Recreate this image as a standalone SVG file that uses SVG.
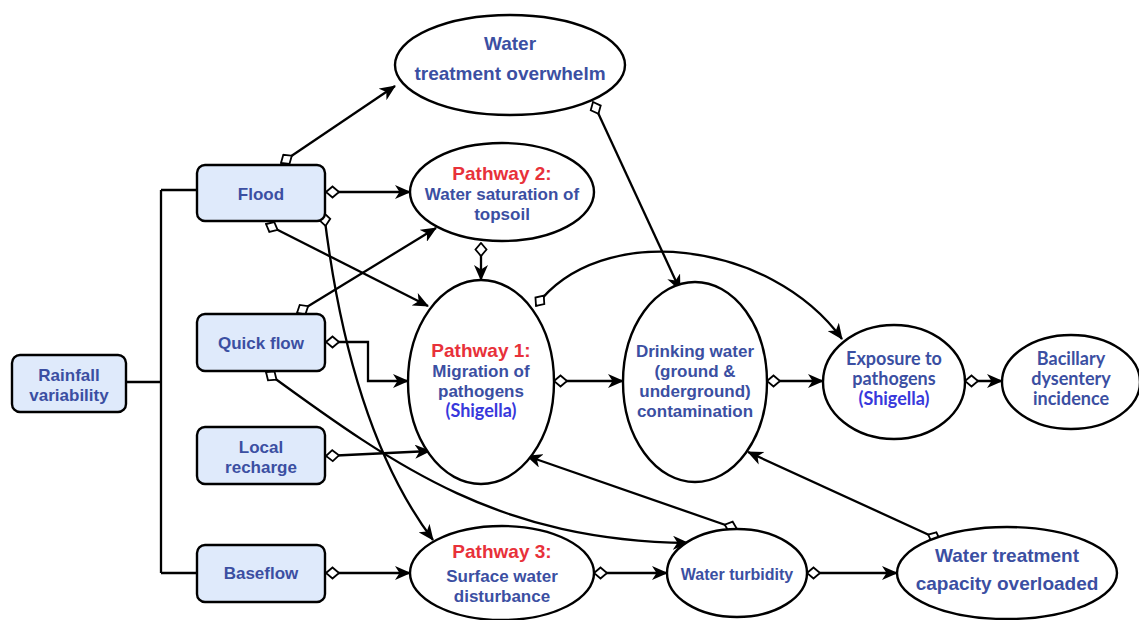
<svg xmlns="http://www.w3.org/2000/svg" width="1139" height="620" viewBox="0 0 1139 620">
<defs>
<style>
.box{fill:#dfeafb;stroke:#000;stroke-width:2.4}
.ell{fill:#fff;stroke:#000;stroke-width:2.4}
.t{font-family:"Liberation Sans",Arial,sans-serif;font-weight:bold;font-size:17px;fill:#3b4fa2;text-anchor:middle}
.big{font-size:19px}
.red{fill:#e8313a;font-size:19px}
.cal{font-family:Lato,"Open Sans",sans-serif;font-size:18px}
.shig{fill:#3838dc}
.c{fill:none;stroke:#000;stroke-width:2.3}
.a{marker-start:url(#dia);marker-end:url(#arr)}
</style>
<marker id="arr" markerUnits="userSpaceOnUse" markerWidth="16" markerHeight="14" viewBox="0 0 16 14" refX="15" refY="7" orient="auto">
<path d="M0,0 L16,7 L0,14 L4.5,7 Z" fill="#000"/>
</marker>
<marker id="dia" markerUnits="userSpaceOnUse" markerWidth="16" markerHeight="14" viewBox="-1.5 -1.5 16 14" refX="0" refY="5.5" orient="auto">
<path d="M0,5.5 L6.5,0 L13,5.5 L6.5,11 Z" fill="#fff" stroke="#000" stroke-width="1.8"/>
</marker>
</defs>
<rect width="1139" height="620" fill="#fff"/>

<g id="connectors">
<path class="c" d="M126,382 H161 M161,190 V573 M161,190 H197 M161,573 H197"/>
<path class="c a" d="M281,163 L395,86"/>
<path class="c a" d="M326,192 L410,192"/>
<path class="c a" d="M324,213 Q350,430 433,540"/>
<path class="c a" d="M266,224 L428,306"/>
<path class="c a" d="M297,313 L436,228"/>
<path class="c a" d="M326,342 H368 V381 H408"/>
<path class="c a" d="M266,372 C400,470 500,540 688,543"/>
<path class="c a" d="M326,456 L430,451"/>
<path class="c a" d="M326,573 L410,573"/>
<path class="c a" d="M481,243 L481,280"/>
<path class="c a" d="M593,102 L680,290"/>
<path class="c a" d="M536,306 C600,220 770,240 842,339"/>
<path class="c a" d="M554,381 L623,381"/>
<path class="c a" d="M767,381 L823,381"/>
<path class="c a" d="M965,381 L1002,381"/>
<path class="c a" d="M594,573 L667,573"/>
<path class="c a" d="M807,573 L897,573"/>
<path class="c a" d="M737,529 L527,456"/>
<path class="c a" d="M940,540 L748,452"/>
</g>

<g id="rainfall">
<rect class="box" x="12" y="355" width="114" height="57" rx="8"/>
<text class="t" x="69" y="381">Rainfall</text>
<text class="t" x="69" y="401">variability</text>
</g>
<g id="flood">
<rect class="box" x="197" y="165" width="128" height="56" rx="8"/>
<text class="t" x="261" y="200">Flood</text>
</g>
<g id="quickflow">
<rect class="box" x="197" y="314" width="128" height="57" rx="8"/>
<text class="t" x="261" y="349">Quick flow</text>
</g>
<g id="localrecharge">
<rect class="box" x="197" y="427" width="128" height="57" rx="8"/>
<text class="t" x="261" y="453">Local</text>
<text class="t" x="261" y="473">recharge</text>
</g>
<g id="baseflow">
<rect class="box" x="197" y="545" width="128" height="57" rx="8"/>
<text class="t" x="261" y="579">Baseflow</text>
</g>

<g id="wto">
<ellipse class="ell" cx="510" cy="65" rx="115" ry="50"/>
<text class="t big" x="510" y="50">Water</text>
<text class="t big" x="510" y="80">treatment overwhelm</text>
</g>
<g id="pathway2">
<ellipse class="ell" cx="502" cy="192" rx="92" ry="49"/>
<text class="t red" x="502" y="180">Pathway 2:</text>
<text class="t" x="502" y="200">Water saturation of</text>
<text class="t" x="502" y="220">topsoil</text>
</g>
<g id="pathway1">
<ellipse class="ell" cx="481" cy="382" rx="73" ry="102"/>
<text class="t red" x="481" y="357">Pathway 1:</text>
<text class="t" x="481" y="377">Migration of</text>
<text class="t" x="481" y="397">pathogens</text>
<text class="t cal shig" x="481" y="417">(Shigella)</text>
</g>
<g id="drinking">
<ellipse class="ell" cx="695" cy="382" rx="72" ry="100"/>
<text class="t" x="695" y="357">Drinking water</text>
<text class="t" x="695" y="377">(ground &amp;</text>
<text class="t" x="695" y="397">underground)</text>
<text class="t" x="695" y="417">contamination</text>
</g>
<g id="exposure">
<ellipse class="ell" cx="894" cy="382" rx="71" ry="57"/>
<text class="t cal" x="894" y="365">Exposure to</text>
<text class="t cal" x="894" y="385">pathogens</text>
<text class="t cal shig" x="894" y="405">(Shigella)</text>
</g>
<g id="bacillary">
<ellipse class="ell" cx="1071" cy="382" rx="69" ry="47"/>
<text class="t cal" x="1071" y="365">Bacillary</text>
<text class="t cal" x="1071" y="385">dysentery</text>
<text class="t cal" x="1071" y="405">incidence</text>
</g>
<g id="pathway3">
<ellipse class="ell" cx="502" cy="573" rx="92" ry="47"/>
<text class="t red" x="502" y="558">Pathway 3:</text>
<text class="t" x="502" y="582">Surface water</text>
<text class="t" x="502" y="602">disturbance</text>
</g>
<g id="turbidity">
<ellipse class="ell" cx="737" cy="573" rx="70" ry="44"/>
<text class="t" x="737" y="580" style="font-size:16px">Water turbidity</text>
</g>
<g id="capacity">
<ellipse class="ell" cx="1007" cy="573" rx="110" ry="46"/>
<text class="t big" x="1007" y="562">Water treatment</text>
<text class="t big" x="1007" y="590">capacity overloaded</text>
</g>
</svg>
